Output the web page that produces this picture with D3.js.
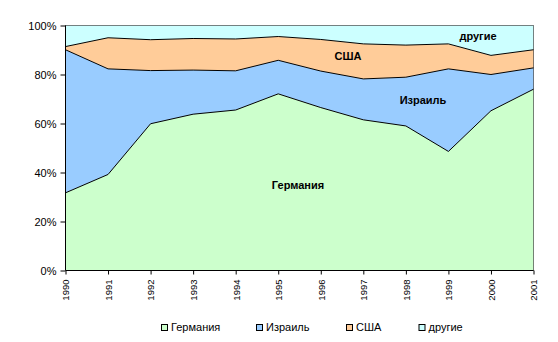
<!DOCTYPE html>
<html>
<head>
<meta charset="utf-8">
<script src="https://cdn.jsdelivr.net/npm/d3@7"></script>
<style>
  html, body { margin: 0; padding: 0; background: #fff; }
  svg { display: block; font-family: "Liberation Sans", Arial, sans-serif; }
</style>
</head>
<body>
<svg id="chart" width="558" height="342"></svg>
<script>
const years = ["1990","1991","1992","1993","1994","1995","1996","1997","1998","1999","2000","2001"];
const seriesNames = ["Германия","Израиль","США","другие"];
const germany = [31.7, 39.2, 59.9, 63.8, 65.5, 72.1, 66.5, 61.5, 59.0, 48.6, 65.2, 74.0];
const israel  = [58.4, 43.1, 21.7, 18.0, 16.0, 13.7, 14.9, 16.7, 19.9, 33.7, 14.8, 8.7];
const usa     = [1.3, 12.7, 12.6, 12.9, 13.0, 9.7, 12.9, 14.3, 13.1, 10.2, 7.8, 7.4];
const others  = [8.6, 5.0, 5.8, 5.3, 5.5, 4.5, 5.7, 7.5, 8.0, 7.5, 12.2, 9.9];
const yTicks = [0, 20, 40, 60, 80, 100];
const colors = ["#CCFFCC", "#99CCFF", "#FFCC99", "#CCFFFF"];

(function () {
const valuesBySeries = [germany, israel, usa, others];
const rows = years.map((yr, i) => {
  const o = { year: yr };
  seriesNames.forEach((s, k) => o[s] = valuesBySeries[k][i]);
  return o;
});

const svg = d3.select("#chart");
const pL = 65.5, pR = 533.5, pT = 25.5, pB = 270.5;

const x = d3.scalePoint().domain(years).range([pL, pR]);
const y = d3.scaleLinear().domain([0, 100]).range([pB, pT]);

const stack = d3.stack().keys(seriesNames).offset(d3.stackOffsetExpand);
const layers = stack(rows);

const area = d3.area()
  .x(d => x(d.data.year))
  .y0(d => y(d[0] * 100))
  .y1(d => y(d[1] * 100));
const topLine = d3.line()
  .x(d => x(d.data.year))
  .y(d => y(d[1] * 100));

svg.append("g").selectAll("path").data(layers).join("path")
  .attr("d", area)
  .attr("fill", (d, i) => colors[i]);

svg.append("g").selectAll("path").data(layers.slice(0, 3)).join("path")
  .attr("d", topLine)
  .attr("fill", "none")
  .attr("stroke", "#000")
  .attr("stroke-width", 1);

// plot border top & right (dotted)
svg.append("path")
  .attr("d", `M${pL},${pT}H${pR}V${pB}`)
  .attr("fill", "none")
  .attr("stroke", "#000")
  .attr("stroke-width", 1)
  .attr("stroke-dasharray", "1,1");

// Y axis
const yAxis = d3.axisLeft(y).tickValues(yTicks).tickFormat(d => d + "%").tickSize(5).tickPadding(4);
const gy = svg.append("g").attr("transform", `translate(${pL},0)`).call(yAxis);
gy.select(".domain").attr("d", `M0,${pB}V${pT}`);
gy.selectAll("text").attr("font-size", 11).attr("fill", "#000").attr("font-family", "Liberation Sans, Arial, sans-serif");
gy.selectAll("line").attr("stroke", "#000");

// X axis
const xAxis = d3.axisBottom(x).tickSize(4).tickSizeOuter(0);
const gx = svg.append("g").attr("transform", `translate(0,${pB})`).call(xAxis);
gx.select(".domain").attr("d", `M${pL},0H${pR}`);
gx.selectAll("line").attr("stroke", "#000");
gx.selectAll("text")
  .attr("font-size", 9.5)
  .attr("fill", "#000")
  .attr("font-family", "Liberation Sans, Arial, sans-serif")
  .attr("text-anchor", "end")
  .attr("dy", "0.35em")
  .attr("transform", "translate(0,9) rotate(-90)")
  .attr("x", 0).attr("y", 0);

// Series labels inside areas
const labels = [
  { t: "Германия", x: 298, y: 189 },
  { t: "Израиль", x: 423, y: 104 },
  { t: "США", x: 348, y: 60 },
  { t: "другие", x: 478, y: 40 }
];
svg.append("g").selectAll("text").data(labels).join("text")
  .attr("x", d => d.x).attr("y", d => d.y)
  .attr("text-anchor", "middle")
  .attr("font-size", 11)
  .attr("font-weight", "bold")
  .attr("fill", "#000")
  .text(d => d.t);

// Legend
const legendX = [161, 256, 346, 418.5];
const lg = svg.append("g").selectAll("g").data(seriesNames).join("g")
  .attr("transform", (d, i) => `translate(${legendX[i]},324)`);
lg.append("rect").attr("x", 0.5).attr("y", 0.5).attr("width", 6).attr("height", 6)
  .attr("fill", (d, i) => colors[i]).attr("stroke", "#000").attr("stroke-width", 1);
lg.append("text").attr("x", 10).attr("y", 3.5).attr("dy", "0.35em")
  .attr("font-size", 11).attr("fill", "#000").text(d => d);
})();
</script>
</body>
</html>
